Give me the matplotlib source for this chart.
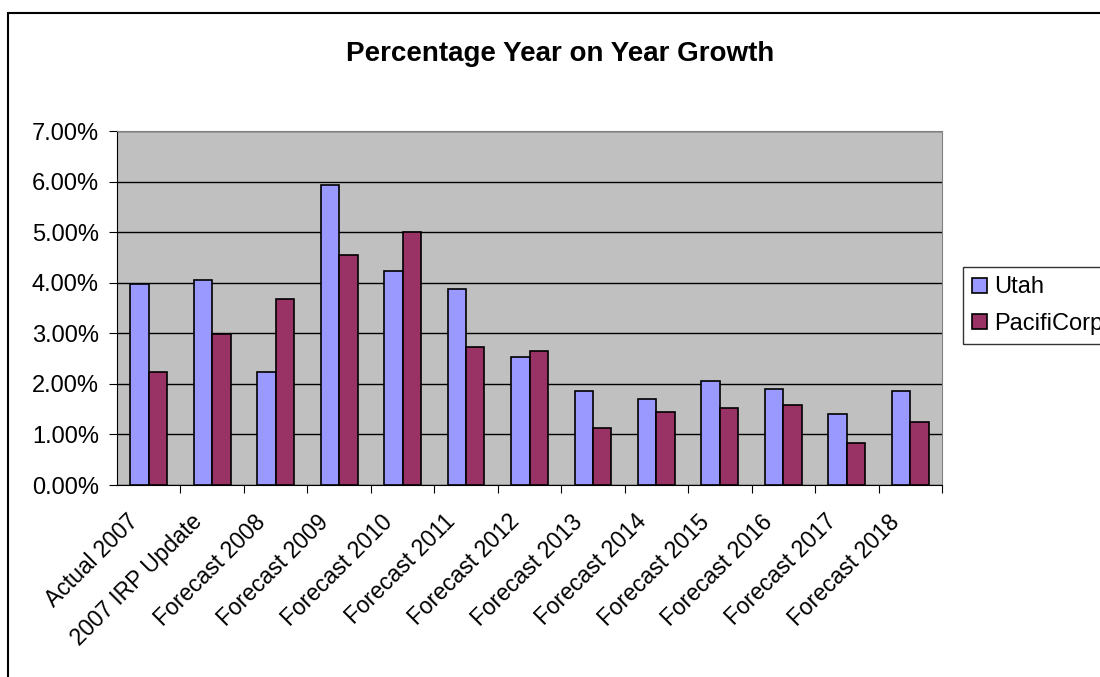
import numpy as np
import matplotlib
matplotlib.use('Agg')
import matplotlib.pyplot as plt
from matplotlib.patches import Rectangle
from matplotlib.ticker import FuncFormatter, MultipleLocator

plt.rcParams['font.family'] = ['Liberation Sans', 'DejaVu Sans']

categories = ['Actual 2007', '2007 IRP Update', 'Forecast 2008', 'Forecast 2009',
              'Forecast 2010', 'Forecast 2011', 'Forecast 2012', 'Forecast 2013',
              'Forecast 2014', 'Forecast 2015', 'Forecast 2016', 'Forecast 2017',
              'Forecast 2018']
utah = [3.97, 4.05, 2.23, 5.94, 4.24, 3.87, 2.53, 1.86, 1.71, 2.05, 1.89, 1.40, 1.86]
pacificorp = [2.23, 2.99, 3.67, 4.54, 5.00, 2.72, 2.65, 1.13, 1.44, 1.52, 1.59, 0.83, 1.25]

fig = plt.figure(figsize=(11, 6.77), dpi=100)
ax = fig.add_axes([117/1100, 1-485/677, 825/1100, 354/677])

# outer chart border (cut off at right and bottom like the original)
fig.patches.append(Rectangle((7.5/1100, -0.1), 1.2, 1.1 - 13/677, transform=fig.transFigure,
                             fill=False, edgecolor='black', linewidth=1.5))

x = np.arange(len(categories))
w = 0.29
ax.bar(x - w/2, utah, w, color='#9999ff', edgecolor='black', linewidth=1.2, label='Utah', zorder=3)
ax.bar(x + w/2, pacificorp, w, color='#993366', edgecolor='black', linewidth=1.2, label='PacifiCorp', zorder=3)

ax.set_facecolor('#c0c0c0')
ax.set_xlim(-0.5, len(categories) - 0.5)
ax.set_ylim(0, 7)
ax.yaxis.set_major_locator(MultipleLocator(1))
ax.yaxis.set_major_formatter(FuncFormatter(lambda v, p: f'{v:.2f}%'))
ax.grid(axis='y', color='black', linewidth=1, zorder=1)
ax.set_axisbelow(True)

# visible ticks between categories, labels on invisible minor ticks
ax.set_xticks(x + 0.5, minor=False)
ax.set_xticklabels([])
ax.set_xticks(x - 0.22, minor=True)
ax.set_xticklabels(categories, minor=True, rotation=45, ha='right', va='center',
                   rotation_mode='anchor', fontsize=16.5)
ax.tick_params(axis='x', which='minor', length=0, pad=24)
ax.tick_params(axis='x', which='major', direction='out', length=6, color='black')
ax.tick_params(axis='y', direction='out', length=6, labelsize=17, pad=7)

for side in ['top', 'right']:
    ax.spines[side].set_color('#808080')
for side in ['left', 'bottom']:
    ax.spines[side].set_color('black')

fig.text(560/1100, 1-54/677, 'Percentage Year on Year Growth', ha='center', va='center',
         fontsize=20, fontweight='bold')

leg = fig.legend(loc='upper left', bbox_to_anchor=(963/1100, 1-267/677), fontsize=17,
                 frameon=True, fancybox=False, edgecolor='black', handlelength=0.6,
                 handleheight=0.6, handletextpad=0.3, borderpad=0.4, labelspacing=0.6,
                 borderaxespad=0)
leg.get_frame().set_linewidth(1)

fig.savefig('out.png', dpi=100)
